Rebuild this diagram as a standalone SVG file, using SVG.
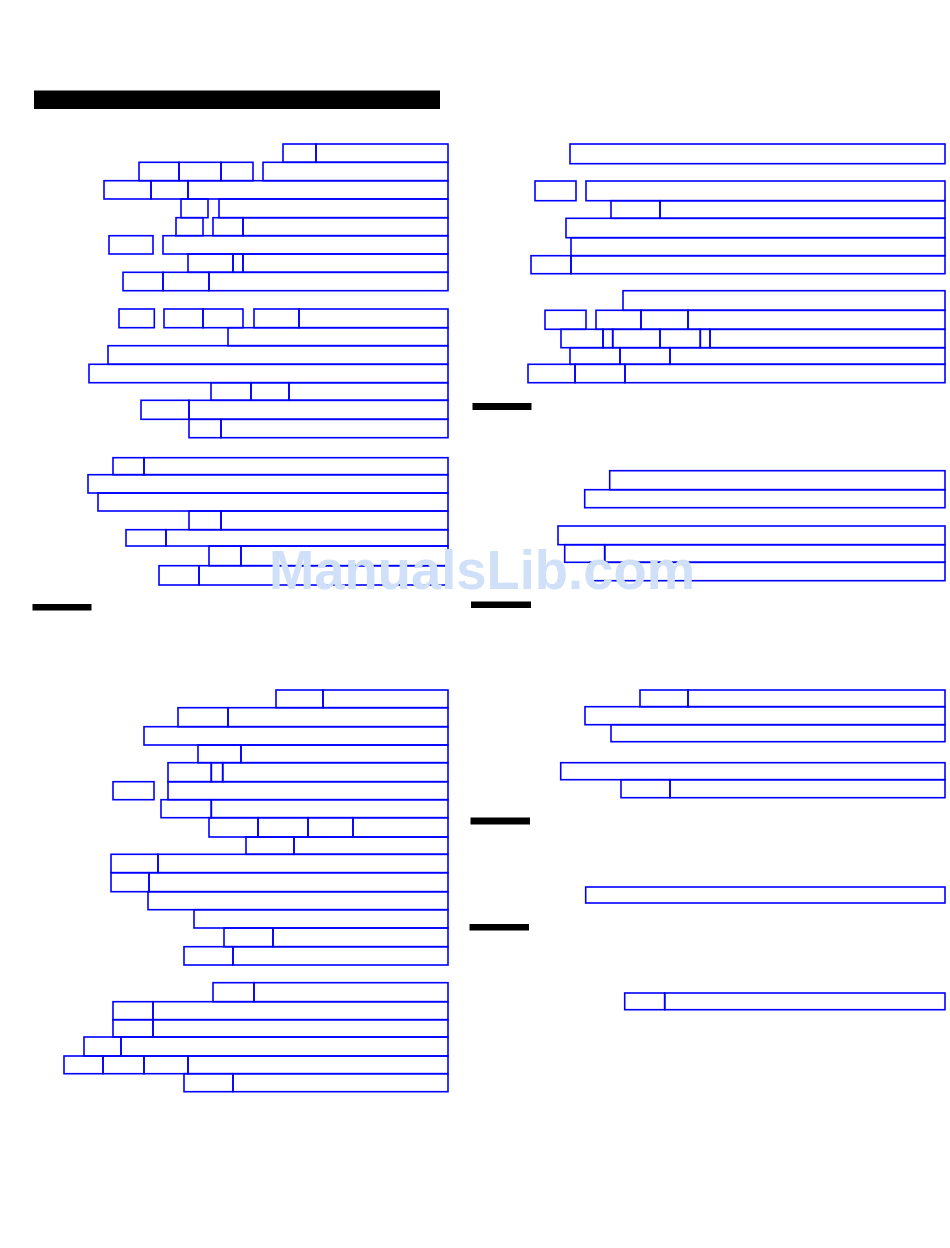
<svg xmlns="http://www.w3.org/2000/svg" width="950" height="1248" viewBox="0 0 950 1248">
<style>
rect.b{fill:none;stroke:#0000ff;stroke-width:1.6}
rect.k{fill:#000}
.wm{font-family:"Liberation Sans",Arial,sans-serif;font-weight:bold;font-size:55px;fill:#cfe0f8}
</style>
<rect width="950" height="1248" fill="#fff"/>
<g id="bars">
<rect class="k" x="34" y="90.5" width="406" height="18.5"/>
<rect class="k" x="32.5" y="604" width="59" height="6.5"/>
<rect class="k" x="472.5" y="403" width="59" height="7"/>
<rect class="k" x="471" y="601.5" width="60" height="6.5"/>
<rect class="k" x="470.5" y="817.5" width="59.5" height="7"/>
<rect class="k" x="469.5" y="924" width="59.5" height="6.5"/>
</g>
<g id="left-1">
<rect class="b" x="283" y="144" width="33" height="18.3"/><rect class="b" x="316" y="144" width="132" height="18.3"/>
<rect class="b" x="139" y="162.3" width="40" height="18.4"/><rect class="b" x="179" y="162.3" width="42" height="18.4"/><rect class="b" x="221" y="162.3" width="32" height="18.4"/><rect class="b" x="263" y="162.3" width="185" height="18.4"/>
<rect class="b" x="104" y="180.7" width="47" height="18.3"/><rect class="b" x="151" y="180.7" width="37" height="18.3"/><rect class="b" x="188" y="180.7" width="260" height="18.3"/>
<rect class="b" x="181" y="199" width="27" height="18.7"/><rect class="b" x="219" y="199" width="229" height="18.7"/>
<rect class="b" x="176" y="217.7" width="27" height="18"/><rect class="b" x="213" y="217.7" width="30" height="18"/><rect class="b" x="243" y="217.7" width="205" height="18"/>
<rect class="b" x="109" y="235.7" width="44" height="18.3"/><rect class="b" x="163" y="235.7" width="285" height="18.3"/>
<rect class="b" x="188" y="254" width="45" height="18.3"/><rect class="b" x="233" y="254" width="10" height="18.3"/><rect class="b" x="243" y="254" width="205" height="18.3"/>
<rect class="b" x="123" y="272.3" width="40" height="18.4"/><rect class="b" x="163" y="272.3" width="46" height="18.4"/><rect class="b" x="209" y="272.3" width="239" height="18.4"/>
</g>
<g id="left-2">
<rect class="b" x="119" y="309" width="35.3" height="18.7"/><rect class="b" x="164" y="309" width="39" height="18.7"/><rect class="b" x="203" y="309" width="40" height="18.7"/><rect class="b" x="254" y="309" width="45" height="18.7"/><rect class="b" x="299" y="309" width="149" height="18.7"/>
<rect class="b" x="228" y="327.7" width="220" height="18"/>
<rect class="b" x="108" y="345.7" width="340" height="18.6"/>
<rect class="b" x="89" y="364.3" width="359" height="18.4"/>
<rect class="b" x="211" y="382.7" width="40" height="17.6"/><rect class="b" x="251" y="382.7" width="38" height="17.6"/><rect class="b" x="289" y="382.7" width="159" height="17.6"/>
<rect class="b" x="141" y="400.3" width="48" height="19"/><rect class="b" x="189" y="400.3" width="259" height="19"/>
<rect class="b" x="189" y="419.3" width="32" height="18.4"/><rect class="b" x="221" y="419.3" width="227" height="18.4"/>
</g>
<g id="left-3">
<rect class="b" x="113" y="457.7" width="31" height="17"/><rect class="b" x="144" y="457.7" width="304" height="17"/>
<rect class="b" x="88" y="474.7" width="360" height="18.3"/>
<rect class="b" x="98" y="493" width="350" height="18"/>
<rect class="b" x="189" y="511" width="32" height="18.7"/><rect class="b" x="221" y="511" width="227" height="18.7"/>
<rect class="b" x="126" y="529.7" width="40" height="16.3"/><rect class="b" x="166" y="529.7" width="282" height="16.3"/>
<rect class="b" x="209" y="546" width="32" height="19.7"/><rect class="b" x="241" y="546" width="207" height="19.7"/>
<rect class="b" x="159" y="565.7" width="40" height="19.3"/><rect class="b" x="199" y="565.7" width="249" height="19.3"/>
</g>
<g id="left-4">
<rect class="b" x="276" y="690" width="47" height="17.7"/><rect class="b" x="323" y="690" width="125" height="17.7"/>
<rect class="b" x="178" y="707.7" width="50" height="19"/><rect class="b" x="228" y="707.7" width="220" height="19"/>
<rect class="b" x="144" y="726.7" width="304" height="18.3"/>
<rect class="b" x="198" y="745" width="43" height="17.7"/><rect class="b" x="241" y="745" width="207" height="17.7"/>
<rect class="b" x="168" y="762.7" width="43.3" height="19"/><rect class="b" x="211.3" y="762.7" width="11.4" height="19"/><rect class="b" x="222.7" y="762.7" width="225.3" height="19"/>
<rect class="b" x="113" y="781.7" width="41" height="18"/><rect class="b" x="168" y="781.7" width="280" height="18"/>
<rect class="b" x="161" y="799.7" width="50.3" height="18"/><rect class="b" x="211.3" y="799.7" width="236.7" height="18"/>
<rect class="b" x="209" y="817.7" width="49" height="19.3"/><rect class="b" x="258" y="817.7" width="50" height="19.3"/><rect class="b" x="308" y="817.7" width="45" height="19.3"/><rect class="b" x="353" y="817.7" width="95" height="19.3"/>
<rect class="b" x="246" y="837" width="48" height="17.3"/><rect class="b" x="294" y="837" width="154" height="17.3"/>
<rect class="b" x="111" y="854.3" width="47" height="18.4"/><rect class="b" x="158" y="854.3" width="290" height="18.4"/>
<rect class="b" x="111" y="872.7" width="38" height="19"/><rect class="b" x="149" y="872.7" width="299" height="19"/>
<rect class="b" x="148" y="891.7" width="300" height="18"/>
<rect class="b" x="194" y="909.7" width="254" height="18.3"/>
<rect class="b" x="224" y="928" width="49" height="18.7"/><rect class="b" x="273" y="928" width="175" height="18.7"/>
<rect class="b" x="184" y="946.7" width="49" height="18.3"/><rect class="b" x="233" y="946.7" width="215" height="18.3"/>
</g>
<g id="left-5">
<rect class="b" x="213" y="982.7" width="41" height="19"/><rect class="b" x="254" y="982.7" width="194" height="19"/>
<rect class="b" x="113" y="1001.7" width="40" height="18"/><rect class="b" x="153" y="1001.7" width="295" height="18"/>
<rect class="b" x="113" y="1019.7" width="40" height="17.3"/><rect class="b" x="153" y="1019.7" width="295" height="17.3"/>
<rect class="b" x="84" y="1037" width="37" height="19"/><rect class="b" x="121" y="1037" width="327" height="19"/>
<rect class="b" x="64" y="1056" width="39" height="17.7"/><rect class="b" x="103" y="1056" width="41" height="17.7"/><rect class="b" x="144" y="1056" width="44" height="17.7"/><rect class="b" x="188" y="1056" width="260" height="17.7"/>
<rect class="b" x="184" y="1073.7" width="49" height="18"/><rect class="b" x="233" y="1073.7" width="215" height="18"/>
</g>
<g id="right-1">
<rect class="b" x="570" y="144" width="375" height="19.7"/>
<rect class="b" x="535" y="181" width="41" height="19.7"/><rect class="b" x="586" y="181" width="359" height="19.7"/>
<rect class="b" x="611" y="200.7" width="49" height="17.6"/><rect class="b" x="660" y="200.7" width="285" height="17.6"/>
<rect class="b" x="566" y="218.3" width="379" height="19.4"/>
<rect class="b" x="571" y="237.7" width="374" height="18"/>
<rect class="b" x="531" y="255.7" width="40" height="18"/><rect class="b" x="571" y="255.7" width="374" height="18"/>
</g>
<g id="right-2">
<rect class="b" x="623" y="290.7" width="322" height="19.6"/>
<rect class="b" x="545" y="310.3" width="41" height="19"/><rect class="b" x="596" y="310.3" width="45" height="19"/><rect class="b" x="641" y="310.3" width="47" height="19"/><rect class="b" x="688" y="310.3" width="257" height="19"/>
<rect class="b" x="561" y="329.3" width="42" height="18.4"/><rect class="b" x="603" y="329.3" width="9.7" height="18.4"/><rect class="b" x="612.7" y="329.3" width="47.3" height="18.4"/><rect class="b" x="660" y="329.3" width="40.3" height="18.4"/><rect class="b" x="700.3" y="329.3" width="9.7" height="18.4"/><rect class="b" x="710" y="329.3" width="235" height="18.4"/>
<rect class="b" x="570" y="347.7" width="50" height="16.6"/><rect class="b" x="620" y="347.7" width="50" height="16.6"/><rect class="b" x="670" y="347.7" width="275" height="16.6"/>
<rect class="b" x="528" y="364.3" width="47" height="18.4"/><rect class="b" x="575" y="364.3" width="50" height="18.4"/><rect class="b" x="625" y="364.3" width="320" height="18.4"/>
</g>
<g id="right-3">
<rect class="b" x="609.7" y="470.7" width="335.3" height="19"/>
<rect class="b" x="584.7" y="489.7" width="360.3" height="18"/>
<rect class="b" x="558" y="526" width="387" height="18.7"/>
<rect class="b" x="564.7" y="544.7" width="40" height="17.6"/><rect class="b" x="604.7" y="544.7" width="340.3" height="17.6"/>
<rect class="b" x="590" y="562.3" width="355" height="18.4"/>
</g>
<g id="right-4">
<rect class="b" x="640" y="690" width="48" height="16.7"/><rect class="b" x="688" y="690" width="257" height="16.7"/>
<rect class="b" x="585" y="706.7" width="360" height="18"/>
<rect class="b" x="611" y="724.7" width="334" height="17"/>
<rect class="b" x="560.7" y="762.7" width="384.3" height="17"/>
<rect class="b" x="621" y="779.7" width="49" height="18"/><rect class="b" x="670" y="779.7" width="275" height="18"/>
</g>
<g id="right-5">
<rect class="b" x="585.7" y="887" width="359.3" height="16"/>
</g>
<g id="right-6">
<rect class="b" x="624.7" y="993" width="40" height="16.7"/><rect class="b" x="664.7" y="993" width="280.3" height="16.7"/>
</g>
<g id="connectors"/>
<text class="wm" x="269" y="589" textLength="426" lengthAdjust="spacingAndGlyphs">ManualsLib.com</text>
</svg>
